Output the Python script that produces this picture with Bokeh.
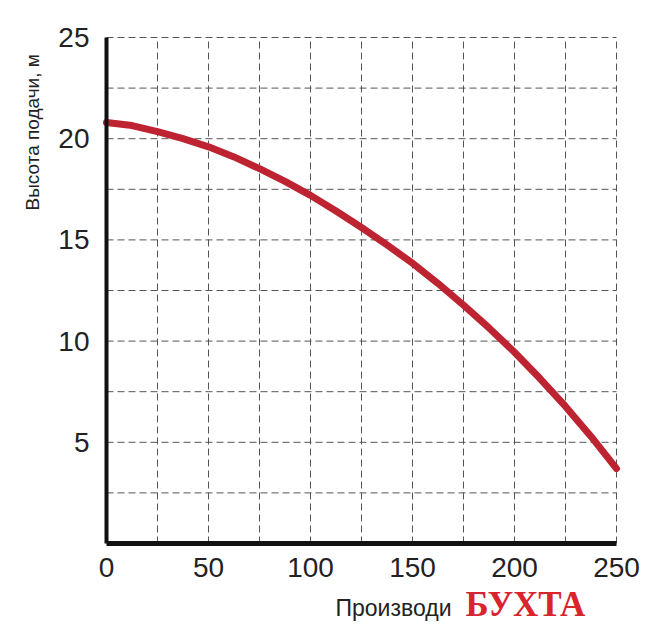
from bokeh.plotting import figure
from bokeh.models import Range1d, FixedTicker, Label, LinearAxis
from bokeh.embed import file_html
from bokeh.resources import INLINE
import math

# Data
flow = [0, 12.5, 25, 37.5, 50, 62.5, 75, 87.5, 100, 112.5, 125, 137.5, 150,
        162.5, 175, 187.5, 200, 212.5, 225, 237.5, 250]
head = [20.8, 20.65, 20.35, 20.0, 19.6, 19.1, 18.52, 17.89, 17.2, 16.43, 15.61,
        14.75, 13.85, 12.85, 11.78, 10.65, 9.45, 8.15, 6.77, 5.29, 3.7]

x_ticks = [0, 50, 100, 150, 200, 250]
y_ticks = [5, 10, 15, 20, 25]
x_grid = [25, 50, 75, 100, 125, 150, 175, 200, 225, 250]
y_grid = [2.5, 5, 7.5, 10, 12.5, 15, 17.5, 20, 22.5, 25]
x_lim = (0, 250)
y_lim = (0, 25)

y_title = "Высота подачи, м"
x_title = "Производи"
watermark = "БУХТА"

FONT = "Liberation Sans"
W, H = 653, 632
X0_PX, Y0_PX = 106, 543          # pixel position of the origin
SX, SY = 2.04, 20.24             # pixels per data unit

p = figure(width=W, height=H, output_backend="svg", toolbar_location=None,
           x_range=Range1d(-X0_PX / SX, (W - X0_PX) / SX),
           y_range=Range1d(-(H - Y0_PX) / SY, Y0_PX / SY),
           x_axis_location=None, y_axis_location=None, min_border=0)
p.outline_line_color = None
p.background_fill_color = "white"
p.border_fill_color = "white"
p.xgrid.visible = False
p.ygrid.visible = False

# dashed grid limited to the data area
p.segment(x0=x_grid, y0=[y_lim[0]] * len(x_grid), x1=x_grid, y1=[y_lim[1]] * len(x_grid),
          line_color="#555555", line_dash="7 4", line_width=1)
p.segment(x0=[x_lim[0]] * len(y_grid), y0=y_grid, x1=[x_lim[1]] * len(y_grid), y1=y_grid,
          line_color="#555555", line_dash="7 4", line_width=1)

# axes fixed at the origin
xax = LinearAxis(fixed_location=0, ticker=FixedTicker(ticks=x_ticks), bounds=x_lim)
yax = LinearAxis(fixed_location=0, ticker=FixedTicker(ticks=y_ticks), bounds=y_lim)
for ax in (xax, yax):
    ax.axis_line_color = "#111111"
    ax.major_tick_line_color = None
    ax.minor_tick_line_color = None
    ax.major_label_text_font = FONT
    ax.major_label_text_font_size = "28px"
    ax.major_label_text_color = "#222222"
xax.axis_line_width = 5
yax.axis_line_width = 4
xax.major_label_standoff = 8
yax.major_label_standoff = 11
p.add_layout(xax, "below")
p.add_layout(yax, "left")

# curve
p.line(flow, head, line_color="#bd2330", line_width=7, line_cap="round", line_join="round")

# titles
p.add_layout(Label(x=(32 - X0_PX) / SX, y=(Y0_PX - 210) / SY, text=y_title,
                   angle=math.pi / 2,
                   text_font=FONT, text_font_size="19px", text_color="#222222",
                   text_align="left", text_baseline="middle"))
p.add_layout(Label(x=(335 - X0_PX) / SX, y=(Y0_PX - 607) / SY, text=x_title,
                   text_font=FONT, text_font_size="23px", text_color="#222222",
                   text_align="left", text_baseline="middle"))
p.add_layout(Label(x=(465 - X0_PX) / SX, y=(Y0_PX - 604) / SY, text=watermark,
                   text_font="Liberation Serif",
                   text_font_size="35px",
                   text_font_style="bold", text_color="#d9232d",
                   text_align="left", text_baseline="middle"))

open("out.html", "w").write(file_html(p, INLINE))
